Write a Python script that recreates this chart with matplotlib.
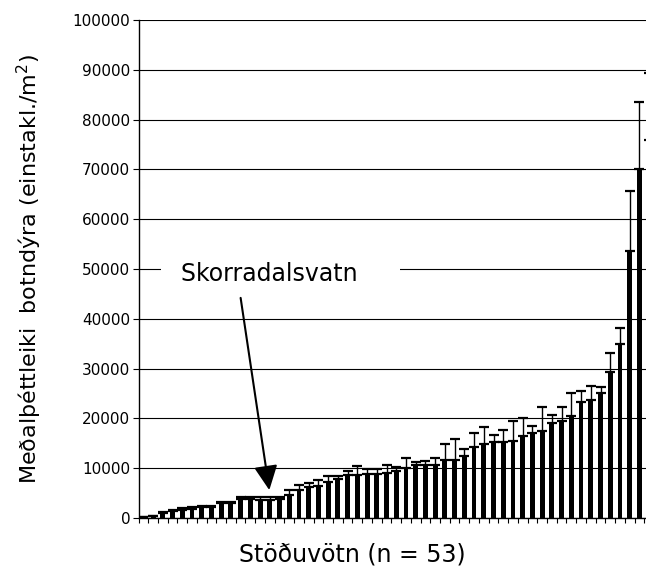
import numpy as np
import matplotlib
matplotlib.use("Agg")
import matplotlib.pyplot as plt

# mean density per lake, sorted (einstakl./m2) and the top of the error bar
density = [150, 350, 1100, 1400, 1600, 1880, 2200, 2200, 3050, 3100,
           3800, 3900, 3700, 3650, 3900, 4650, 5600, 6200, 6350, 7230,
           7900, 8580, 8580, 8850, 8850, 9130, 9460, 10000, 10670, 10670,
           10670, 11680, 11680, 12350, 14230, 14850, 15250, 15300, 15550, 16500,
           17100, 17550, 19100, 19400, 20400, 23250, 23600, 25200, 29300, 34900,
           53700, 70000, 76000]
err_top = [200, 500, 1300, 1650, 1950, 2300, 2350, 2350, 3300, 3300,
           4200, 4300, 4150, 4250, 4250, 5600, 6700, 7100, 7550, 8380,
           8380, 9460, 10400, 9860, 9830, 10600, 10340, 11950, 11280, 11540,
           11950, 14770, 15770, 13890, 17050, 18250, 16750, 17750, 19400, 20000,
           18400, 22200, 20600, 22200, 25200, 25450, 26450, 26400, 33100, 38200,
           65700, 83600, 89300]
skorra_idx = 13  # Skorradalsvatn
y_ticks = list(range(0, 100001, 10000))

density = np.array(density)
err_top = np.array(err_top)
x = np.arange(len(density))

fig = plt.figure(figsize=(6.46, 5.76), dpi=100)
# axes runs a little past the right edge of the figure, like the original
ax = fig.add_axes([138.5 / 646, 58 / 576, 515.5 / 646, 498 / 576])

ax.bar(x, density, width=0.5, color="black", zorder=3)
ax.errorbar(x, density, yerr=[np.zeros(len(x)), err_top - density], fmt="none",
            ecolor="black", elinewidth=1.0, capsize=3.9, capthick=1.6, zorder=3)

ax.set_xlim(-0.5, len(x) - 0.5)
ax.set_ylim(0, 100000)
ax.set_yticks(y_ticks)
ax.set_yticklabels([str(v) for v in y_ticks], fontsize=11)
ax.set_xticks(np.arange(len(x) + 1) - 0.5)
ax.set_xticklabels([])
ax.tick_params(axis="x", direction="out", length=3.5, width=0.8)
ax.tick_params(axis="y", direction="out", length=4, width=0.8, pad=2)
ax.yaxis.grid(True, color="black", linewidth=0.8, zorder=0)
ax.set_axisbelow(True)

for s in ["top", "right"]:
    ax.spines[s].set_visible(False)
ax.spines["left"].set_linewidth(1.0)
ax.spines["bottom"].set_linewidth(1.0)

ax.set_ylabel("Meðalþéttleiki  botndýra (einstakl./m$^2$)", fontsize=16)
ax.yaxis.set_label_coords(-0.183, 0.5)
ax.set_xlabel("Stöðuvötn (n = 53)", fontsize=17)
ax.xaxis.set_label_coords(0.415, -0.05)

# label with white box that breaks the gridline (trailing spaces widen the box)
ax.text(3.85, 49000, "Skorradalsvatn   ", fontsize=17, ha="left", va="center",
        zorder=4, bbox=dict(boxstyle="square,pad=0.85", fc="white", ec="none"))
ax.annotate("", xy=(skorra_idx - 0.05, 5600), xytext=(10.0, 44200),
            arrowprops=dict(arrowstyle="-|>,head_length=0.75,head_width=0.36",
                            mutation_scale=20, lw=1.5, color="black",
                            shrinkA=0, shrinkB=0), zorder=5)

fig.savefig("out.png", dpi=100)
